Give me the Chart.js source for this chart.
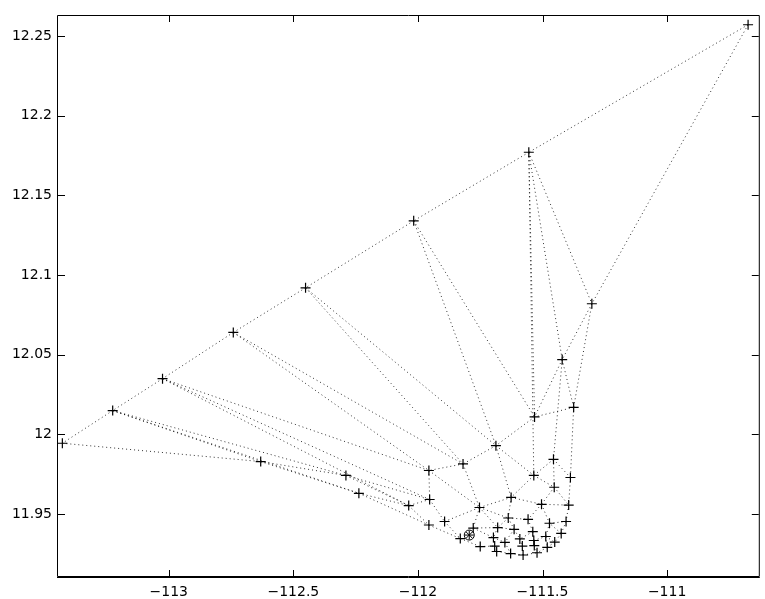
<!DOCTYPE html>
<html>
<head>
<meta charset="utf-8">
<script src="https://cdn.jsdelivr.net/npm/chart.js@4/dist/chart.umd.min.js"></script>
<style>
  html, body { margin: 0; padding: 0; background: #fff; }
  #wrap { width: 765px; height: 599px; }
</style>
</head>
<body>
<div id="wrap"><canvas id="plot" width="765" height="599"></canvas></div>
<script>
// Search points (x, y)
const xs = [
  -110.675, -111.555, -111.302, -112.017, -112.451, -112.741, -113.025, -113.225, -113.427,
  -111.421, -111.375, -111.532, -111.687, -111.819, -111.956, -111.456, -111.535, -111.388,
  -111.453, -111.626, -111.953, -112.631, -112.289, -112.237, -112.037, -111.956, -111.893,
  -111.830, -111.778, -111.753, -111.6375, -111.680, -111.614, -111.697, -111.651, -111.750,
  -111.692, -111.684, -111.628, -111.504, -111.395, -111.558, -111.472, -111.4055, -111.539,
  -111.425, -111.487, -111.591, -111.535, -111.451, -111.581, -111.533, -111.481, -111.578,
  -111.522
];
const ys = [
  12.257, 12.177, 12.082, 12.134, 12.092, 12.064, 12.035, 12.015, 11.9945,
  12.047, 12.017, 12.011, 11.993, 11.9815, 11.9774, 11.9844, 11.9743, 11.973,
  11.9669, 11.9605, 11.9592, 11.983, 11.9743, 11.9631, 11.9554, 11.9432, 11.9454,
  11.9347, 11.9413, 11.9542, 11.9476, 11.9416, 11.9405, 11.9353, 11.9323, 11.9297,
  11.930, 11.9266, 11.9253, 11.9562, 11.9557, 11.9468, 11.9443, 11.9454, 11.939,
  11.9379, 11.936, 11.9345, 11.9335, 11.9325, 11.930, 11.9303, 11.9292, 11.9244,
  11.9258
];

// dotted segments between points (index pairs)
const edges = [
  [0, 1], [1, 3], [3, 4], [4, 5], [5, 6], [6, 7], [7, 8],
  [0, 2], [1, 2], [1, 9], [1, 11], [1, 16], [2, 9], [2, 10], [9, 11], [9, 10],
  [10, 11], [11, 12], [3, 12], [3, 11], [4, 12], [4, 13], [5, 13], [5, 14],
  [6, 14], [6, 20], [6, 24], [7, 21], [7, 22], [7, 23], [8, 21],
  [12, 13], [13, 14], [14, 20], [12, 16], [12, 19], [15, 16], [15, 17], [9, 15],
  [15, 18], [10, 17], [16, 18], [16, 19], [13, 29], [14, 29], [21, 22], [21, 23],
  [22, 24], [22, 20], [23, 24], [23, 25], [20, 24], [20, 26], [24, 25], [25, 27],
  [26, 27], [26, 29],
  [19, 30], [19, 29], [19, 39], [29, 30], [29, 28], [30, 41], [30, 32], [31, 32],
  [28, 31], [31, 33], [32, 34], [33, 34], [33, 36], [34, 38], [36, 37], [35, 36],
  [27, 35], [28, 33], [37, 38], [32, 47], [47, 50], [50, 53], [38, 53], [41, 44],
  [44, 48], [48, 51], [51, 54], [53, 54], [39, 41], [39, 42], [39, 40], [40, 43],
  [17, 40], [18, 39], [18, 40], [42, 43], [42, 46], [43, 45], [45, 49], [46, 49],
  [46, 52], [49, 52], [52, 54], [44, 47], [48, 46], [45, 42], [29, 31], [30, 31]
];

// final estimate (circle + star)
const bestX = [-111.794];
const bestY = [11.9369];

const xTicks = [-113, -112.5, -112, -111.5, -111];
const yTicks = [11.95, 12, 12.05, 12.1, 12.15, 12.2, 12.25];
const xRange = [-113.4445, -110.632];
const yRange = [11.9106, 12.2631];

const pts = xs.map((x, i) => ({ x: x, y: ys[i] }));
const best = bestX.map((x, i) => ({ x: x, y: bestY[i] }));

const datasets = [
  {
    data: pts,
    showLine: false,
    pointStyle: "cross",
    pointRadius: 5,
    pointBorderColor: "#000",
    pointBorderWidth: 1.2,
  },
  {
    data: best,
    showLine: false,
    pointStyle: "circle",
    pointRadius: 5,
    pointBackgroundColor: "rgba(0,0,0,0)",
    pointBorderColor: "#000",
    pointBorderWidth: 1,
  },
  {
    data: best,
    showLine: false,
    pointStyle: "star",
    pointRadius: 4.5,
    pointBorderColor: "#000",
    pointBorderWidth: 1,
  },
];

edges.forEach(([a, b]) => {
  datasets.push({
    data: [pts[a], pts[b]],
    showLine: true,
    borderColor: "rgba(0,0,0,0.8)",
    borderWidth: 1,
    borderDash: [1, 3],
    pointRadius: 0,
    fill: false,
  });
});

// box around the axes with inward tick marks
const frameTicks = {
  id: "frameTicks",
  afterDraw(chart) {
    const { ctx, chartArea: a, scales } = chart;
    const tl = 7;
    ctx.save();
    ctx.strokeStyle = "#000";
    ctx.lineWidth = 1;
    ctx.beginPath();
    ctx.rect(a.left - 0.5, a.top + 0.5, a.right - a.left + 1, a.bottom - a.top - 1);
    xTicks.forEach((v) => {
      const px = Math.round(scales.x.getPixelForValue(v)) + 0.5;
      ctx.moveTo(px, a.bottom);
      ctx.lineTo(px, a.bottom - tl);
      ctx.moveTo(px, a.top);
      ctx.lineTo(px, a.top + tl);
    });
    yTicks.forEach((v) => {
      const py = Math.round(scales.y.getPixelForValue(v)) + 0.5;
      ctx.moveTo(a.left, py);
      ctx.lineTo(a.left + tl, py);
      ctx.moveTo(a.right, py);
      ctx.lineTo(a.right - tl, py);
    });
    ctx.stroke();
    // bottom axis a touch heavier, as in the original
    ctx.beginPath();
    ctx.moveTo(a.left - 1, a.bottom + 0.5);
    ctx.lineTo(a.right + 1, a.bottom + 0.5);
    ctx.stroke();
    ctx.restore();
  },
};

const tickFont = { family: "'DejaVu Sans', sans-serif", size: 14 };

new Chart(document.getElementById("plot"), {
  type: "scatter",
  data: { datasets: datasets },
  options: {
    responsive: false,
    animation: false,
    devicePixelRatio: 1,
    layout: { padding: { top: 15, right: 1, left: 0, bottom: 0 } },
    plugins: { legend: { display: false }, tooltip: { enabled: false } },
    scales: {
      x: {
        type: "linear",
        min: xRange[0],
        max: xRange[1],
        grid: { display: false, drawTicks: false },
        border: { display: false },
        afterBuildTicks: (s) => { s.ticks = xTicks.map((v) => ({ value: v })); },
        afterFit: (s) => { s.height = 22; },
        ticks: {
          color: "#000",
          font: tickFont,
          padding: 7,
          maxRotation: 0,
          callback: (v) => String(v).replace("-", "\u2212"),
        },
      },
      y: {
        type: "linear",
        min: yRange[0],
        max: yRange[1],
        grid: { display: false, drawTicks: false },
        border: { display: false },
        afterBuildTicks: (s) => { s.ticks = yTicks.map((v) => ({ value: v })); },
        afterFit: (s) => { s.width = 58; },
        ticks: {
          color: "#000",
          font: tickFont,
          padding: 6,
          callback: (v) => String(v),
        },
      },
    },
  },
  plugins: [frameTicks],
});
</script>
</body>
</html>
